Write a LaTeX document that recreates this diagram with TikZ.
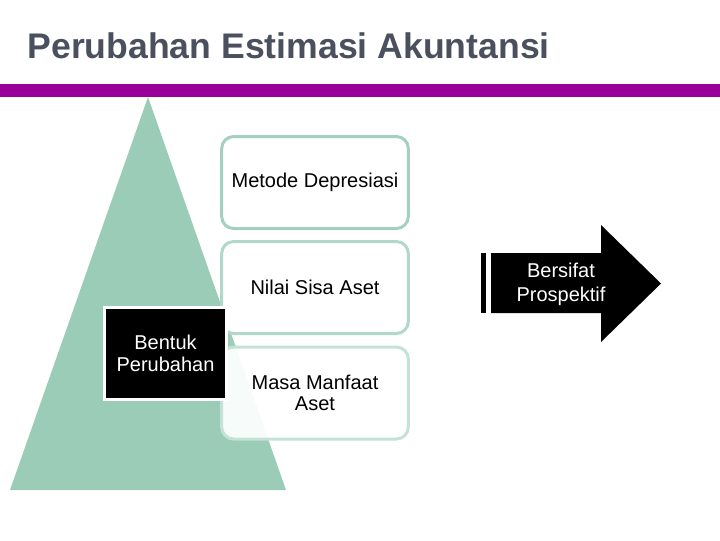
\documentclass[tikz,border=0pt]{standalone}
\usepackage{fontspec}
\setmainfont{Liberation Sans}

\definecolor{judul}{RGB}{75,80,94}
\definecolor{ungu}{RGB}{153,0,153}
\definecolor{hijau}{RGB}{154,204,184}
\definecolor{garisA}{RGB}{164,208,192}
\definecolor{garisB}{RGB}{178,216,202}
\definecolor{garisC}{RGB}{196,226,214}

\tikzset{every picture/.style={line width=0.75pt}}
\tikzset{
  kotak/.style={rounded corners=9pt, line width=2.25pt, fill=white, fill opacity=0.93, text opacity=1,
    minimum width=140pt, minimum height=69pt, align=center, inner sep=0.75pt,
    font=\fontsize{15}{16}\selectfont},
  kotakhitam/.style={draw=white, line width=2.25pt, fill=black, text=white,
    minimum width=91.5pt, minimum height=69pt, align=center, inner sep=0.75pt,
    font=\fontsize{15}{17}\selectfont}
}

\begin{document}
\begin{tikzpicture}[x=0.75pt,y=0.75pt,yscale=-1,xscale=1]
\useasboundingbox (0,0) rectangle (720,540);

% Text Node
\draw (27,58) node [anchor=base west][inner sep=0pt][text=judul, font=\fontsize{26.7}{32}\bfseries] (judul) {Perubahan Estimasi Akuntansi};

%Shape: Rectangle [purple bar]
\fill [ungu] (0,84) rectangle (720,97);

%Shape: Triangle
\fill [hijau] (148,97) -- (286,490) -- (10,490) -- cycle;

%Shape: Rounded Rectangles
\node [kotak, draw=garisA] (metode) at (315,182.5) {Metode Depresiasi};
\node [kotak, draw=garisB] (sisa) at (315,287.5) {Nilai Sisa Aset};
\node [kotak, draw=garisC] (masa) at (315,393) {Masa Manfaat\\Aset};

%Shape: Rectangle
\node [kotakhitam] (bentuk) at (165.5,353.5) {Bentuk\\Perubahan};

%Shape: Bar
\fill [black] (481,253) rectangle (486,313);
%Shape: Right Arrow
\fill [black] (491,253) -- (601,253) -- (601,225) -- (661,283.5) -- (601,342) -- (601,313) -- (491,313) -- cycle;

% Text Node
\draw (561,284) node [text=white, align=center, inner sep=0.75pt, font=\fontsize{15}{18}\selectfont] (prospektif) {Bersifat\\Prospektif};

\end{tikzpicture}
\end{document}
